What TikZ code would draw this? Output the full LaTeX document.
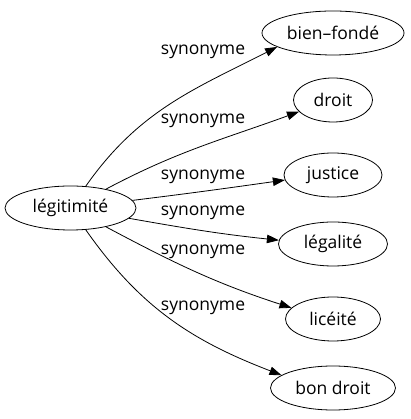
\documentclass[tikz,border=0pt]{standalone}
\usepackage{fontspec}
\setmainfont{Open Sans}
\usetikzlibrary{arrows.meta}
\usetikzlibrary{shapes}

% name/word/y/width/out/tip/in/label y
\newcommand\synonymes{
  bien/bien–fondé/386/142/55/194/207/367,
  droit/droit/319/79/28/199/200/298,
  justice/justice/244/98/7/186/188/242,
  legalite/légalité/175/109/350/176/174/206,
  liceite/licéité/100/95/332/165/162/167,
  bondroit/bon droit/31/125/305/166/159/111}

\begin{document}
\begin{tikzpicture}[x=1pt,y=1pt,
    word/.style={font=\fontsize{17.5}{20}\selectfont},
    entry/.style={word,draw,ellipse,inner sep=0pt,minimum height=44pt,line width=0.8pt},
    link/.style={-{Triangle[length=12pt,width=8.5pt]},line width=0.8pt}]
  \useasboundingbox (0,0) rectangle (410,419);

  \node[entry,minimum width=131pt] (legitimite) at (70.5,211) {légitimité};

  \foreach \name/\word/\ypos/\nodewidth/\outang/\tipang/\inang/\labely [count=\i] in \synonymes {
    \node[entry,minimum width=\nodewidth pt] (\name) at (333,\ypos) {\word};
    \node[word] (label\i) at (203,\labely) {synonyme};
    \draw[link] (legitimite.\outang) to[out=\outang,in=\inang] (\name.\tipang);
  }

\end{tikzpicture}
\end{document}
